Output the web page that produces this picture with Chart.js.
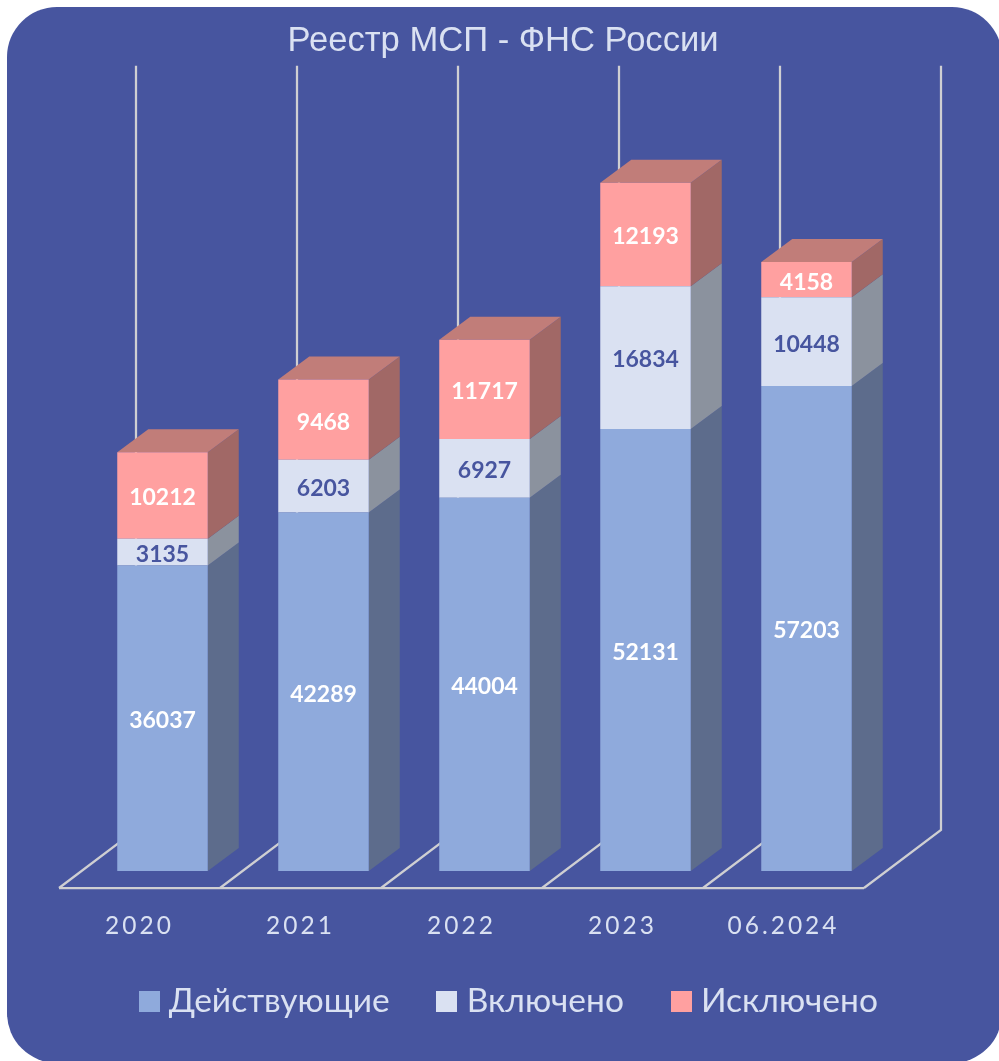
<!DOCTYPE html>
<html lang="ru">
<head>
<meta charset="utf-8">
<title>Реестр МСП - ФНС России</title>
<script src="https://cdn.jsdelivr.net/npm/chart.js@4"></script>
<style>
    html, body { margin: 0; height: 100%; background: #fff; overflow: hidden; }
    .panel { position: absolute; left: 7px; top: 7px; width: 995px; height: 1056px; border-radius: 50px; background: #47559f; }
    canvas { position: absolute; left: 0; top: 0; }
</style>
</head>
<body>
<div class="panel"></div>
<canvas id="chart" width="999" height="1061"></canvas>
<script>
const categories = ['2020', '2021', '2022', '2023', '06.2024'];
const activeValues = [36037, 42289, 44004, 52131, 57203];
const includedValues = [3135, 6203, 6927, 16834, 10448];
const excludedValues = [10212, 9468, 11717, 12193, 4158];

const textColor = '#dae1f2';
const gridColor = '#cfcfd2';
const labelFont = 'Lato, "Noto Sans", sans-serif';

// front face, side face, label colour of each series
const seriesColors = [
    {front: '#8faadc', side: '#5d6c8c', label: '#ffffff'},
    {front: '#dae1f2', side: '#8b929e', label: '#47559f'},
    {front: '#ffa0a0', side: '#a16866', label: '#ffffff'},
];
const topColor = '#c17d79';

const depth = {x: 31, y: 23};

function polygon(ctx, points, color) {
    ctx.fillStyle = color;
    ctx.beginPath();
    points.forEach(([x, y], i) => (i ? ctx.lineTo(x, y) : ctx.moveTo(x, y)));
    ctx.closePath();
    ctx.fill();
}

// legend squares sit closer to their text than the library's box would
function makeSwatch(color) {
    const swatch = document.createElement('canvas');
    swatch.width = 21;
    swatch.height = 21;
    const swatchCtx = swatch.getContext('2d');
    swatchCtx.fillStyle = color;
    swatchCtx.fillRect(0, 0, 21, 21);
    return swatch;
}
const swatches = seriesColors.map(c => makeSwatch(c.front));

const box3d = {
    id: 'box3d',

    afterLayout(chart) {
        // title and legend are not centred on the canvas in the original
        chart.legend.left += 12.5;
        chart.legend.right += 12.5;
        chart.legend.top -= 15;
        chart.titleBlock.left += 3.5;
        chart.titleBlock.right += 3.5;
    },

    beforeDraw(chart) {
        // tick labels are letter spaced, nothing else is
        const scale = chart.scales.x;
        if (scale.spacedLabels) return;
        scale.spacedLabels = true;
        const drawLabels = scale.drawLabels;
        scale.drawLabels = function (area) {
            chart.ctx.letterSpacing = '3px';
            drawLabels.call(scale, area);
            chart.ctx.letterSpacing = '0px';
        };
    },

    beforeDatasetsDraw(chart) {
        const {ctx, chartArea, scales: {x, y}} = chart;
        const pitch = (x.right - x.left) / categories.length;
        const frontY = chartArea.bottom + 17;
        const backY = chartArea.bottom - 41;
        const wallTop = y.top - 42;

        ctx.save();
        ctx.strokeStyle = gridColor;
        ctx.lineWidth = 2.25;
        ctx.beginPath();
        for (let i = 0; i <= categories.length; i++) {
            const frontX = x.left + pitch * i - 23;
            const backX = x.left + pitch * i + 54;
            ctx.moveTo(frontX, frontY);
            ctx.lineTo(backX, backY);
            ctx.lineTo(backX, wallTop);
        }
        ctx.moveTo(x.left - 23, frontY);
        ctx.lineTo(x.right - 23, frontY);
        ctx.stroke();

        chart.data.datasets.forEach((ds, d) => {
            chart.getDatasetMeta(d).data.forEach((bar) => {
                const right = bar.x + bar.width / 2;
                polygon(ctx, [
                    [right, bar.base],
                    [right + depth.x, bar.base - depth.y],
                    [right + depth.x, bar.y - depth.y],
                    [right, bar.y],
                ], seriesColors[d].side);
            });
        });

        const lastMeta = chart.getDatasetMeta(chart.data.datasets.length - 1);
        lastMeta.data.forEach((bar) => {
            const left = bar.x - bar.width / 2;
            const right = bar.x + bar.width / 2;
            polygon(ctx, [
                [left, bar.y],
                [right, bar.y],
                [right + depth.x, bar.y - depth.y],
                [left + depth.x, bar.y - depth.y],
            ], topColor);
        });
        ctx.restore();
    },

    afterDatasetsDraw(chart) {
        const {ctx} = chart;
        ctx.save();
        ctx.font = `bold 23px ${labelFont}`;
        ctx.textAlign = 'center';
        ctx.textBaseline = 'middle';
        chart.data.datasets.forEach((ds, d) => {
            ctx.fillStyle = seriesColors[d].label;
            chart.getDatasetMeta(d).data.forEach((bar, i) => {
                ctx.fillText(String(ds.data[i]), bar.x, (bar.y + bar.base) / 2 + 2.5);
            });
        });
        ctx.restore();
    },
};

function makeDataset(label, data, d) {
    return {
        label,
        data,
        backgroundColor: seriesColors[d].front,
        borderWidth: 0,
        barPercentage: 1,
        categoryPercentage: 90.5 / 161,
    };
}

// empty side axes only reserve room, so title and legend keep the full width
function spacerAxis(position, width) {
    return {
        position,
        min: 0,
        grid: {display: false},
        border: {display: false},
        ticks: {display: false},
        afterFit(scale) { scale.width = width; },
    };
}

new Chart(document.getElementById('chart'), {
    type: 'bar',
    data: {
        labels: categories,
        datasets: [
            makeDataset('Действующие', activeValues, 0),
            makeDataset('Включено', includedValues, 1),
            makeDataset('Исключено', excludedValues, 2),
        ],
    },
    plugins: [box3d],
    options: {
        responsive: false,
        animation: false,
        layout: {padding: {left: 0, right: 0, top: 21, bottom: 18.25}},
        plugins: {
            tooltip: {enabled: false},
            title: {
                display: true,
                text: 'Реестр МСП - ФНС России',
                color: textColor,
                font: {family: '"Liberation Sans", Arial, sans-serif', size: 34.6, weight: 'normal'},
                padding: {top: 0, bottom: 45.3},
            },
            legend: {
                position: 'bottom',
                labels: {
                    color: textColor,
                    font: {family: labelFont, size: 33.5},
                    usePointStyle: true,
                    pointStyleWidth: 6,
                    boxHeight: 21,
                    padding: 54.25,
                    generateLabels(chart) {
                        return Chart.defaults.plugins.legend.labels.generateLabels(chart)
                            .map((item, i) => ({...item, pointStyle: swatches[i]}));
                    },
                },
            },
        },
        scales: {
            x: {
                stacked: true,
                grid: {display: false},
                border: {display: false},
                afterFit(scale) { scale.height = 74; },
                ticks: {
                    color: textColor,
                    font: {family: labelFont, size: 24.5},
                    padding: 32,
                    labelOffset: -23,
                    maxRotation: 0,
                    autoSkip: false,
                },
            },
            y: {...spacerAxis('left', 82), stacked: true, max: 90000},
            spacer: {...spacerAxis('right', 112), max: 1},
        },
    },
});
</script>
</body>
</html>
